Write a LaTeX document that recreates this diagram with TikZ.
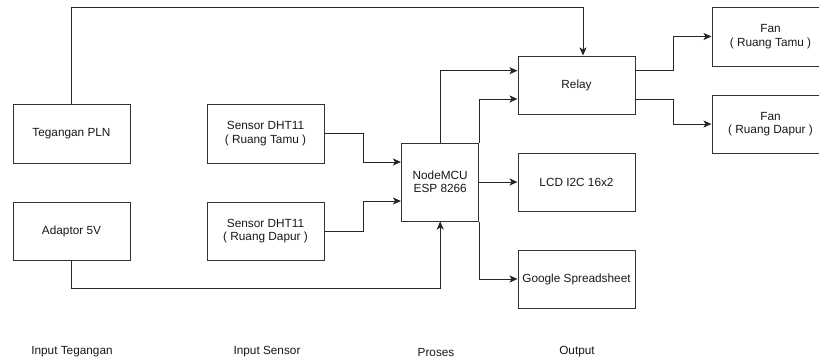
\documentclass[tikz,border=0pt]{standalone}
\usepackage{fontspec}
\setmainfont{Liberation Sans}
\usetikzlibrary{arrows.meta}
\begin{document}
\begin{tikzpicture}[x=1pt,y=-1pt,
  box/.style={draw=black!80, line width=1pt, fill=white, minimum width=117pt, minimum height=58pt, inner sep=0pt, align=center, text=black!90, font=\fontsize{11.8}{13.5}\selectfont},
  arr/.style={draw=black!85, line width=1pt, -{Stealth[length=8pt,width=7pt,inset=2pt]}},
  lbl/.style={text=black!90, font=\fontsize{11.8}{13.5}\selectfont, inner sep=0pt}]
\useasboundingbox (0,0) rectangle (819,360);
\clip (0,0) rectangle (819,360);
\fill[white] (0,0) rectangle (819,360);
% nodes
\node[box, minimum height=59pt] (pln) at (71.5,133.5) {Tegangan PLN};
\node[box] (adaptor) at (71.5,231) {Adaptor 5V};
\node[box, minimum height=59pt] (stamu) at (265.5,133.5) {Sensor DHT11\\( Ruang Tamu )};
\node[box] (sdapur) at (265.5,231) {Sensor DHT11\\( Ruang Dapur )};
\node[box, minimum width=77.5pt, minimum height=78pt] (mcu) at (440.2,182) {NodeMCU\\ESP 8266};
\node[box] (relay) at (576.5,85) {Relay};
\node[box] (lcd) at (576.5,182) {LCD I2C 16x2};
\node[box] (google) at (576.5,279) {Google Spreadsheet};
\node[box, minimum height=59pt] (fan1) at (770.5,36.5) {Fan\\( Ruang Tamu )};
\node[box] (fan2) at (770.5,124) {Fan\\( Ruang Dapur )};
% connectors
\draw[arr] (pln.north) -- (pln.north |- 0,7) -| ([xshift=6.5pt]relay.north);
\draw[arr] (stamu.east) -- ++(39,0) |- ([yshift=20pt]mcu.west);
\draw[arr] (sdapur.east) -- ++(39,0) |- ([yshift=-19pt]mcu.west);
\draw[arr] (adaptor.south) -- ++(0,28) -| (mcu.south);
\draw[arr] (mcu.north) |- ([yshift=14.3pt]relay.west);
\draw[arr] (mcu.north east) |- ([yshift=-14pt]relay.west);
\draw[arr] (mcu.east) -- (lcd.west);
\draw[arr] (mcu.south east) |- (google.west);
\draw[arr] ([yshift=14.3pt]relay.east) -- ++(38,0) |- (fan1.west);
\draw[arr] ([yshift=-14pt]relay.east) -- ++(38,0) |- (fan2.west);
% labels
\node[lbl] (l1) at (72,352) {Input Tegangan};
\node[lbl] (l2) at (267,352) {Input Sensor};
\node[lbl] (l3) at (436,352) {Proses};
\node[lbl] (l4) at (577,352) {Output};
\end{tikzpicture}
\end{document}
